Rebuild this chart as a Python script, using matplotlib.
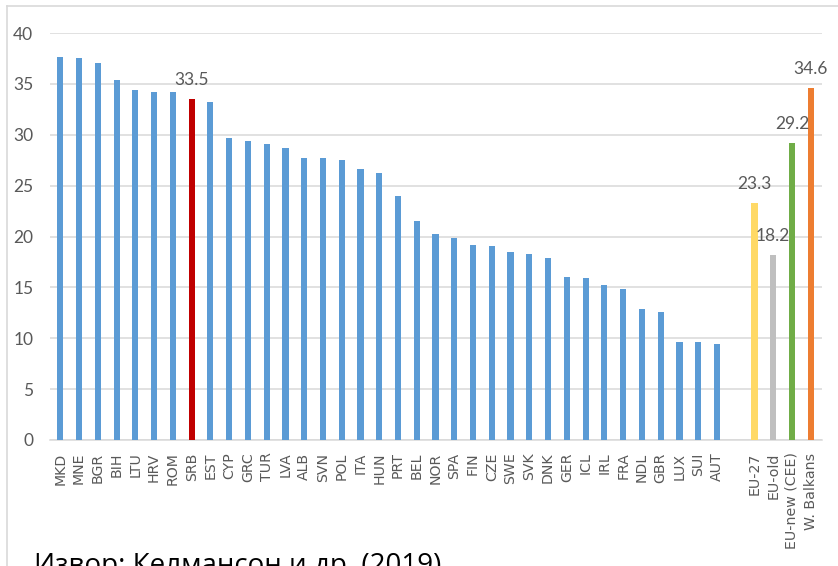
import matplotlib.pyplot as plt
from matplotlib.lines import Line2D
import numpy as np

countries = ['MKD', 'MNE', 'BGR', 'BIH', 'LTU', 'HRV', 'ROM', 'SRB', 'EST', 'CYP',
             'GRC', 'TUR', 'LVA', 'ALB', 'SVN', 'POL', 'ITA', 'HUN', 'PRT', 'BEL',
             'NOR', 'SPA', 'FIN', 'CZE', 'SWE', 'SVK', 'DNK', 'GER', 'ICL', 'IRL',
             'FRA', 'NDL', 'GBR', 'LUX', 'SUI', 'AUT']
country_vals = [37.6, 37.5, 37.1, 35.4, 34.4, 34.2, 34.2, 33.5, 33.2, 29.7,
                29.4, 29.1, 28.7, 27.7, 27.7, 27.5, 26.6, 26.2, 24.0, 21.5,
                20.2, 19.9, 19.2, 19.1, 18.5, 18.3, 17.9, 16.0, 15.9, 15.2,
                14.8, 12.9, 12.6, 9.6, 9.6, 9.4]
groups = ['EU-27', 'EU-old', 'EU-new (CEE)', 'W. Balkans']
group_vals = [23.3, 18.2, 29.2, 34.6]
group_colors = ['#FFD966', '#BFBFBF', '#70AD47', '#ED7D31']
highlight = 'SRB'
source = 'Извор: Келмансон и др. (2019)'

grey = '#595959'

fig = plt.figure(figsize=(8.38, 5.66), dpi=100)
ax = fig.add_axes([50 / 838, 1 - 440 / 566, 772 / 838, 407 / 566])

xc = np.arange(len(countries))
colors = ['#C00000' if c == highlight else '#5B9BD5' for c in countries]
ax.bar(xc, country_vals, width=0.33, color=colors, zorder=3)

xg = np.arange(len(groups)) + len(countries) + 1
ax.bar(xg, group_vals, width=0.33, color=group_colors, zorder=3)

# data labels
i = countries.index(highlight)
ax.annotate(f'{country_vals[i]:.1f}', (xc[i], country_vals[i]), xytext=(0, 8),
            textcoords='offset points', ha='center', va='bottom',
            fontsize=12.5, color=grey, family='Lato')
for x, v in zip(xg, group_vals):
    ax.annotate(f'{v:.1f}', (x, v), xytext=(0, 8), textcoords='offset points',
                ha='center', va='bottom', fontsize=12.5, color=grey, family='Lato')

ax.set_ylim(0, 40)
ax.set_xlim(-0.55, xg[-1] + 0.6)
ax.set_yticks(range(0, 41, 5))
ax.set_xticks(list(xc) + list(xg))
ax.set_xticklabels(countries + groups, rotation=90, fontsize=10.2, color=grey)
for lab in ax.get_yticklabels():
    lab.set_family('Lato')
    lab.set_fontsize(12.5)
    lab.set_color(grey)
ax.tick_params(axis='both', length=0)
ax.tick_params(axis='x', pad=9)
ax.tick_params(axis='y', pad=12)
ax.grid(axis='y', color='#D9D9D9', lw=1.1, zorder=0)
for s in ['top', 'right', 'left']:
    ax.spines[s].set_visible(False)
ax.spines['bottom'].set_color('#D9D9D9')
ax.spines['bottom'].set_linewidth(1.1)

# chart frame
fig.add_artist(Line2D([7 / 838, 7 / 838], [0, 1 - 6 / 566], color='#D9D9D9', lw=1.2))
fig.add_artist(Line2D([7 / 838, 1], [1 - 6 / 566, 1 - 6 / 566], color='#D9D9D9', lw=1.2))

fig.text(34 / 838, -7 / 566, source, fontsize=20, family='Open Sans', color='black',
         va='baseline', ha='left')

fig.savefig('out.png', dpi=100)
